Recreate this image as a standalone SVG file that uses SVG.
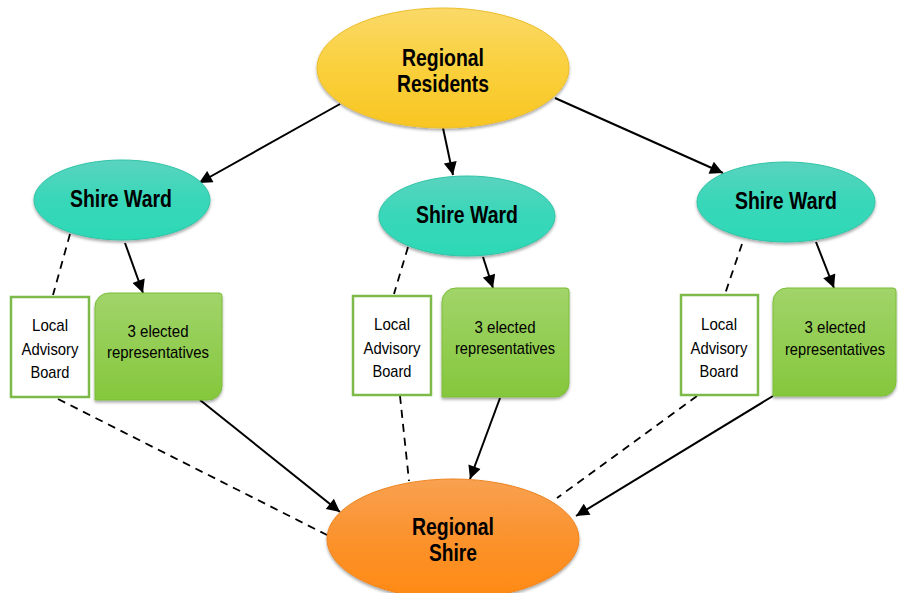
<svg xmlns="http://www.w3.org/2000/svg" width="898" height="593" viewBox="0 0 898 593">
  <defs>
    <linearGradient id="gYellow" x1="0" y1="0" x2="0" y2="1">
      <stop offset="0" stop-color="#FAD968"/>
      <stop offset="0.5" stop-color="#FAD03C"/>
      <stop offset="1" stop-color="#F8C623"/>
    </linearGradient>
    <linearGradient id="gTeal" x1="0" y1="0" x2="0" y2="1">
      <stop offset="0" stop-color="#5AD3BF"/>
      <stop offset="0.5" stop-color="#38D7B9"/>
      <stop offset="1" stop-color="#2CD9B6"/>
    </linearGradient>
    <linearGradient id="gGreen" x1="0" y1="0" x2="0" y2="1">
      <stop offset="0" stop-color="#A1D46A"/>
      <stop offset="1" stop-color="#85C73C"/>
    </linearGradient>
    <linearGradient id="gOrange" x1="0" y1="0" x2="0" y2="1">
      <stop offset="0" stop-color="#F8A151"/>
      <stop offset="0.5" stop-color="#FB922C"/>
      <stop offset="1" stop-color="#FF8A14"/>
    </linearGradient>
    <filter id="shadow" x="-10%" y="-10%" width="120%" height="130%">
      <feDropShadow dx="0" dy="2" stdDeviation="1.5" flood-color="#000" flood-opacity="0.35"/>
    </filter>
    <marker id="arrow" viewBox="0 0 10 10" refX="10" refY="5" markerWidth="15" markerHeight="13" markerUnits="userSpaceOnUse" orient="auto">
      <path d="M0,0 L10,5 L0,10 z" fill="#000"/>
    </marker>
    <style>
      .title { font-family: "Liberation Sans", Arial, sans-serif; font-weight: bold; font-size: 23px; fill: #000; text-anchor: middle; }
      .small { font-family: "Liberation Sans", Arial, sans-serif; font-size: 17px; fill: #000; text-anchor: middle; }
      .solid { stroke: #000; stroke-width: 2; fill: none; marker-end: url(#arrow); }
      .dash { stroke: #000; stroke-width: 1.8; fill: none; stroke-dasharray: 8 6; }
      .lab { fill: #fff; stroke: #7DBA4A; stroke-width: 2.5; }
      .rep { fill: url(#gGreen); stroke: #7BBE38; stroke-width: 1; filter: url(#shadow); }
    </style>
  </defs>

  <!-- connectors -->
  <g id="connectors">
    <line class="solid" x1="340" y1="104" x2="199" y2="183"/>
    <line class="solid" x1="443" y1="128" x2="453" y2="175"/>
    <line class="solid" x1="555" y1="98" x2="723" y2="173"/>

    <line class="solid" x1="125" y1="243" x2="143" y2="293"/>
    <line class="dash" x1="70" y1="234" x2="53" y2="295"/>
    <line class="solid" x1="483" y1="257" x2="493" y2="288"/>
    <line class="dash" x1="408" y1="247" x2="394" y2="294"/>
    <line class="solid" x1="816" y1="242" x2="834" y2="288"/>
    <line class="dash" x1="742" y1="244" x2="725" y2="294"/>

    <line class="dash" x1="58" y1="399" x2="327" y2="535"/>
    <line class="solid" x1="200" y1="400" x2="340" y2="512"/>
    <line class="dash" x1="400" y1="396" x2="409" y2="481"/>
    <line class="solid" x1="500" y1="398" x2="470" y2="479"/>
    <line class="dash" x1="697" y1="396" x2="557" y2="498"/>
    <line class="solid" x1="773" y1="396" x2="576" y2="516"/>
  </g>

  <!-- top node -->
  <g id="regional-residents">
    <ellipse cx="443" cy="68" rx="126" ry="60" fill="url(#gYellow)" stroke="#EDBE2A" stroke-width="1" filter="url(#shadow)"/>
    <text class="title" x="443" y="66" textLength="82" lengthAdjust="spacingAndGlyphs">Regional</text>
    <text class="title" x="443" y="92" textLength="92" lengthAdjust="spacingAndGlyphs">Residents</text>
  </g>

  <!-- wards -->
  <g id="ward-left">
    <ellipse cx="122" cy="200" rx="88" ry="40" fill="url(#gTeal)" stroke="#2FC4A6" stroke-width="1" filter="url(#shadow)"/>
    <text class="title" x="121" y="207" textLength="102" lengthAdjust="spacingAndGlyphs">Shire Ward</text>
  </g>
  <g id="ward-middle">
    <ellipse cx="467" cy="216" rx="88" ry="40" fill="url(#gTeal)" stroke="#2FC4A6" stroke-width="1" filter="url(#shadow)"/>
    <text class="title" x="467" y="223" textLength="102" lengthAdjust="spacingAndGlyphs">Shire Ward</text>
  </g>
  <g id="ward-right">
    <ellipse cx="786" cy="202" rx="89" ry="40" fill="url(#gTeal)" stroke="#2FC4A6" stroke-width="1" filter="url(#shadow)"/>
    <text class="title" x="786" y="209" textLength="102" lengthAdjust="spacingAndGlyphs">Shire Ward</text>
  </g>

  <!-- local advisory boards -->
  <g id="board-left">
    <rect class="lab" x="11" y="297" width="78" height="100"/>
    <text class="small" x="50" y="331" textLength="36" lengthAdjust="spacingAndGlyphs">Local</text>
    <text class="small" x="50" y="355" textLength="57" lengthAdjust="spacingAndGlyphs">Advisory</text>
    <text class="small" x="50" y="378" textLength="39" lengthAdjust="spacingAndGlyphs">Board</text>
  </g>
  <g id="board-middle">
    <rect class="lab" x="353" y="296" width="78" height="99"/>
    <text class="small" x="392" y="330" textLength="36" lengthAdjust="spacingAndGlyphs">Local</text>
    <text class="small" x="392" y="354" textLength="57" lengthAdjust="spacingAndGlyphs">Advisory</text>
    <text class="small" x="392" y="377" textLength="39" lengthAdjust="spacingAndGlyphs">Board</text>
  </g>
  <g id="board-right">
    <rect class="lab" x="681" y="295" width="77" height="100"/>
    <text class="small" x="719" y="330" textLength="36" lengthAdjust="spacingAndGlyphs">Local</text>
    <text class="small" x="719" y="354" textLength="57" lengthAdjust="spacingAndGlyphs">Advisory</text>
    <text class="small" x="719" y="377" textLength="39" lengthAdjust="spacingAndGlyphs">Board</text>
  </g>

  <!-- elected representatives -->
  <g id="reps-left">
    <path class="rep" d="M109,293 H219 A3,3 0 0 1 222,296 V386 A14,14 0 0 1 208,400 H95 V307 A14,14 0 0 1 109,293 Z"/>
    <text class="small" x="158" y="337" textLength="61" lengthAdjust="spacingAndGlyphs">3 elected</text>
    <text class="small" x="158" y="358" textLength="102" lengthAdjust="spacingAndGlyphs">representatives</text>
  </g>
  <g id="reps-middle">
    <path class="rep" d="M456,288 H566 A3,3 0 0 1 569,291 V383 A14,14 0 0 1 555,397 H442 V302 A14,14 0 0 1 456,288 Z"/>
    <text class="small" x="505" y="333" textLength="61" lengthAdjust="spacingAndGlyphs">3 elected</text>
    <text class="small" x="505" y="354" textLength="100" lengthAdjust="spacingAndGlyphs">representatives</text>
  </g>
  <g id="reps-right">
    <path class="rep" d="M787,288 H893 A3,3 0 0 1 896,291 V382 A14,14 0 0 1 882,396 H773 V302 A14,14 0 0 1 787,288 Z"/>
    <text class="small" x="835" y="333" textLength="61" lengthAdjust="spacingAndGlyphs">3 elected</text>
    <text class="small" x="835" y="355" textLength="100" lengthAdjust="spacingAndGlyphs">representatives</text>
  </g>

  <!-- bottom node -->
  <g id="regional-shire">
    <ellipse cx="453" cy="539" rx="126" ry="60" fill="url(#gOrange)" stroke="#EE8520" stroke-width="1" filter="url(#shadow)"/>
    <text class="title" x="453" y="535" textLength="82" lengthAdjust="spacingAndGlyphs">Regional</text>
    <text class="title" x="453" y="561" textLength="48" lengthAdjust="spacingAndGlyphs">Shire</text>
  </g>
</svg>
